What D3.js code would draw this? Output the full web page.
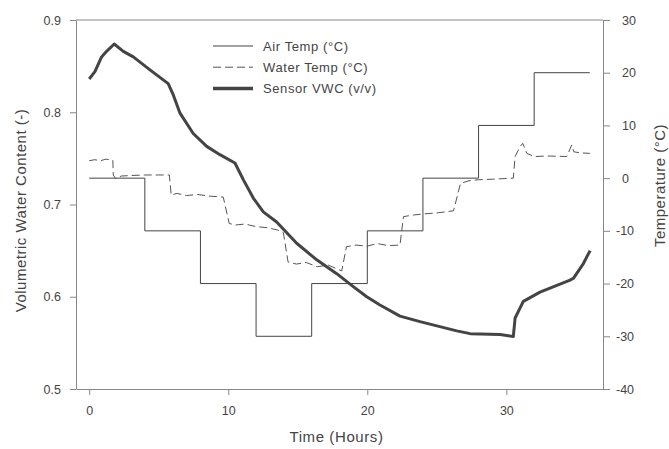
<!DOCTYPE html>
<html>
<head>
<meta charset="utf-8">
<script src="https://cdn.jsdelivr.net/npm/d3@7"></script>
<style>
  body { margin: 0; background: #fff; }
  text { font-family: "Liberation Sans", Arial, sans-serif; fill: #444; }
</style>
</head>
<body>
<svg id="chart"></svg>
<script>
// Air temperature: step changes every 4 hours
const airHours = [0, 4, 8, 12, 16, 20, 24, 28, 32, 36];
const airTemp  = [0, -10, -20, -30, -20, -10, 0, 10, 20, 20];

// Water temperature (hours, deg C)
const waterHours = [0, 0.4, 0.8, 1.2, 1.7, 1.73, 1.9, 2.3, 3.0, 4.0, 5.0, 5.76, 5.9, 6.3, 7.0, 7.8, 8.6, 9.64,
  10.07, 10.5, 11.2, 12.0, 12.8, 13.5, 13.96, 14.3, 14.9, 15.6, 16.4, 17.2, 18.16, 18.5, 19.2, 20.0, 20.7,
  21.5, 22.35, 22.6, 23.3, 24.0, 25.0, 26.2, 26.7, 27.3, 28.0, 29.0, 30.5, 30.63, 30.99, 31.18, 31.47, 32.0,
  33.0, 34.35, 34.7, 34.85, 35.3, 36.0];
const waterTemp = [3.3, 3.5, 3.3, 3.6, 3.4, 0.6, -0.1, 0.4, 0.5, 0.6, 0.6, 0.6, -3.2, -2.9, -3.3, -3.1, -3.4, -3.6,
  -8.6, -8.9, -8.7, -9.2, -9.4, -9.8, -10.3, -15.9, -16.3, -16.0, -16.8, -16.5, -17.6, -13.0, -12.7, -12.9, -12.4,
  -12.8, -12.7, -7.3, -7.0, -6.8, -6.6, -6.2, -1.0, -0.5, -0.3, -0.2, 0.0, 4.1, 6.0, 6.6, 4.7, 4.1,
  4.2, 4.1, 6.3, 5.0, 4.8, 4.7];

// Sensor volumetric water content (hours, v/v)
const vwcHours = [0, 0.41, 0.89, 1.25, 1.8, 2.45, 3.17, 4.37, 5.68, 6.04, 6.53, 7.48, 8.45, 9.4, 10.48, 11.08,
  11.8, 12.52, 13.48, 14.92, 16.36, 17.8, 18.99, 19.96, 20.91, 22.35, 23.79, 26.43, 27.39, 29.55, 30.5,
  30.63, 31.22, 32.42, 34.58, 34.82, 35.54, 36.02];
const vwcValues = [0.836, 0.844, 0.86, 0.866, 0.874, 0.866, 0.86, 0.846, 0.831, 0.819, 0.799, 0.777, 0.763, 0.754,
  0.745, 0.727, 0.707, 0.692, 0.681, 0.658, 0.64, 0.625, 0.611, 0.6, 0.591, 0.579, 0.573, 0.563, 0.56, 0.559,
  0.557, 0.577, 0.595, 0.605, 0.618, 0.62, 0.636, 0.65];

const xTicks = [0, 10, 20, 30];
const vwcTicks = [0.5, 0.6, 0.7, 0.8, 0.9];
const tempTicks = [-40, -30, -20, -10, 0, 10, 20, 30];

const legendItems = ["Air Temp (\u00B0C)", "Water Temp (\u00B0C)", "Sensor VWC (v/v)"];

// Dimensions
const svg_width = 669;
const svg_height = 449;
const plot = { left: 76, right: 603, top: 20, bottom: 389 };

const svg = d3.select("#chart")
    .attr("width", svg_width)
    .attr("height", svg_height);

// Scales
const xScale = d3.scaleLinear().domain([-0.95, 36.95]).range([plot.left, plot.right]);
const yVwc = d3.scaleLinear().domain([0.5, 0.9]).range([plot.bottom, plot.top]);
const yTemp = d3.scaleLinear().domain([-40, 30]).range([plot.bottom, plot.top]);

const axisColor = "#888";

// Top frame line
svg.append("line")
    .attr("x1", plot.left).attr("x2", plot.right)
    .attr("y1", plot.top).attr("y2", plot.top)
    .attr("stroke", axisColor);

function styleAxis(g) {
  g.selectAll("path, line").attr("stroke", axisColor);
  g.selectAll("text").style("font-size", "12.5px").attr("fill", "#444");
}

// Bottom axis
svg.append("g")
    .attr("transform", `translate(0, ${plot.bottom})`)
    .call(d3.axisBottom(xScale).tickValues(xTicks).tickSize(6).tickSizeOuter(0).tickPadding(11))
    .call(styleAxis);

// Left axis
svg.append("g")
    .attr("transform", `translate(${plot.left}, 0)`)
    .call(d3.axisLeft(yVwc).tickValues(vwcTicks).tickFormat(d3.format(".1f")).tickSize(6).tickSizeOuter(0).tickPadding(9))
    .call(styleAxis);

// Right axis
const rightAxis = svg.append("g")
    .attr("transform", `translate(${plot.right}, 0)`)
    .call(d3.axisRight(yTemp).tickValues(tempTicks).tickFormat(d => d < 0 ? "-" + Math.abs(d) : d).tickSize(7).tickSizeOuter(0).tickPadding(12))
    .call(styleAxis);
rightAxis.selectAll(".tick text").attr("dx", d => d < 0 ? -6 : 0);

// Axis titles
svg.append("text")
    .attr("x", (plot.left + plot.right) / 2 - 3)
    .attr("y", 442)
    .attr("text-anchor", "middle")
    .style("font-size", "15px")
    .style("letter-spacing", "0.6px")
    .text("Time (Hours)");

svg.append("text")
    .attr("transform", `translate(26, ${(plot.top + plot.bottom) / 2 + 6}) rotate(-90)`)
    .attr("text-anchor", "middle")
    .style("font-size", "15px")
    .style("letter-spacing", "0.5px")
    .text("Volumetric Water Content (-)");

svg.append("text")
    .attr("transform", `translate(665, ${(plot.top + plot.bottom) / 2 - 19}) rotate(-90)`)
    .attr("text-anchor", "middle")
    .style("font-size", "15px")
    .style("letter-spacing", "0.5px")
    .text("Temperature (\u00B0C)");

// Lines
const airLine = d3.line()
    .x((d, i) => xScale(airHours[i]))
    .y(d => yTemp(d))
    .curve(d3.curveStepAfter);

svg.append("path")
    .attr("d", airLine(airTemp))
    .attr("fill", "none")
    .attr("stroke", "#444")
    .attr("stroke-width", 1);

const waterLine = d3.line()
    .x((d, i) => xScale(waterHours[i]))
    .y(d => yTemp(d));

svg.append("path")
    .attr("d", waterLine(waterTemp))
    .attr("fill", "none")
    .attr("stroke", "#555")
    .attr("stroke-width", 1)
    .attr("stroke-dasharray", "8,4");

const vwcLine = d3.line()
    .x((d, i) => xScale(vwcHours[i]))
    .y(d => yVwc(d));

svg.append("path")
    .attr("d", vwcLine(vwcValues))
    .attr("fill", "none")
    .attr("stroke", "#444")
    .attr("stroke-width", 3)
    .attr("stroke-linejoin", "round");

// Legend
const legendStyles = [
  { w: 1, dash: null, color: "#444" },
  { w: 1, dash: "8,4", color: "#555" },
  { w: 3.5, dash: null, color: "#444" }
];
const legend = svg.append("g").attr("transform", "translate(213, 46)");
legendItems.forEach((label, i) => {
  const row = legend.append("g").attr("transform", `translate(0, ${i * 21.2})`);
  row.append("line")
      .attr("x1", 0).attr("x2", 40)
      .attr("stroke", legendStyles[i].color)
      .attr("stroke-width", legendStyles[i].w)
      .attr("stroke-dasharray", legendStyles[i].dash);
  row.append("text")
      .attr("x", 50)
      .attr("y", 5)
      .style("font-size", "13px")
      .style("letter-spacing", "0.6px")
      .text(label);
});
</script>
</body>
</html>
